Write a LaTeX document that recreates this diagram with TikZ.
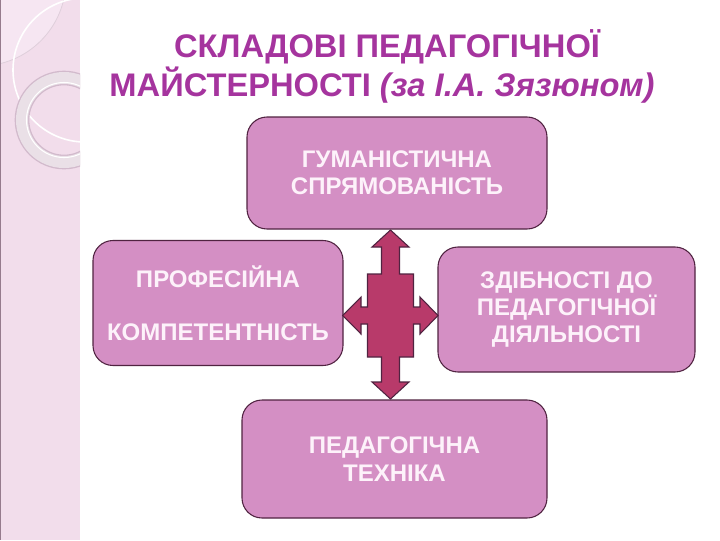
\documentclass[tikz,border=0pt]{standalone}
\usepackage{fontspec}
\setmainfont{Liberation Sans}
\definecolor{titlecol}{RGB}{165,52,158}
\definecolor{boxfill}{RGB}{212,143,196}
\definecolor{boxline}{RGB}{80,35,65}
\definecolor{arrowfill}{RGB}{184,58,106}
\definecolor{stripfill}{RGB}{242,221,235}
\definecolor{striplight}{RGB}{246,230,242}
\definecolor{ringcol}{RGB}{234,224,231}
\definecolor{ringedge}{RGB}{210,186,204}
\definecolor{boxtext}{RGB}{253,242,250}
\tikzset{
  comp/.style={draw=boxline, line width=0.8pt, fill=boxfill, rounded corners=15pt,
    align=center, text=boxtext, font=\fontsize{18}{20.5}\selectfont\bfseries, inner sep=0pt},
  titletext/.style={text=titlecol, font=\fontsize{24.5}{28}\selectfont\bfseries, inner sep=0pt}
}
\begin{document}
\begin{tikzpicture}[x=0.75pt,y=-0.75pt]
\useasboundingbox (0,0) rectangle (720,540);
% left decorative strip
\begin{scope}
\clip (0,0) rectangle (80,540);
\fill[stripfill] (0,0) rectangle (80,540);
\fill[striplight] (-20,-20) circle[radius=86];
\draw[ringedge!70, line width=0.6pt] (-20,-20) circle[radius=86];
\draw[white, line width=1.2pt] (85,70) circle[radius=72];
\draw[ringedge, line width=11pt] (64,120) circle[radius=42];
\draw[ringcol, line width=9pt] (64,120) circle[radius=42];
\draw[white, line width=0.8pt] (64,120) circle[radius=37.5];
\end{scope}
\draw[boxline!60, line width=1pt] (0.5,0) -- (0.5,540);
% title
\node[titletext] (t1) at (387,47) {СКЛАДОВІ ПЕДАГОГІЧНОЇ};
\node[titletext] (t2) at (382,85) {МАЙСТЕРНОСТІ \textit{(за І.А. Зязюном)}};
% boxes
\node[comp, minimum width=225pt, minimum height=84pt] (top) at (397,173) {ГУМАНІСТИЧНА\\СПРЯМОВАНІСТЬ};
\node[comp, minimum width=187.5pt, minimum height=93.75pt] (left) at (218,303) {ПРОФЕСІЙНА\\[19pt]КОМПЕТЕНТНІСТЬ};
\node[comp, minimum width=192.75pt, minimum height=93.75pt] (right) at (566.5,309.5) {ЗДІБНОСТІ ДО\\ПЕДАГОГІЧНОЇ\\ДІЯЛЬНОСТІ};
\node[comp, minimum width=228.75pt, minimum height=88.5pt] (bottom) at (394.5,459) {ПЕДАГОГІЧНА\\ТЕХНІКА};
% four-way arrow
\draw[fill=arrowfill, draw=boxline, line width=0.8pt, line join=miter]
 (390.5,230) -- (409,247) -- (399.5,247) -- (399.5,274) -- (413.5,274) -- (413.5,307)
 -- (420,307) -- (420,297) -- (438,315.5) -- (420,334) -- (420,324) -- (413.5,324)
 -- (413.5,357) -- (399.5,357) -- (399.5,382) -- (409,382) -- (390.5,399) -- (372,382)
 -- (381.5,382) -- (381.5,357) -- (367.5,357) -- (367.5,324) -- (361,324) -- (361,334)
 -- (342.7,315.5) -- (361,297) -- (361,307) -- (367.5,307) -- (367.5,274) -- (381.5,274)
 -- (381.5,247) -- (372,247) -- cycle;
\end{tikzpicture}
\end{document}
